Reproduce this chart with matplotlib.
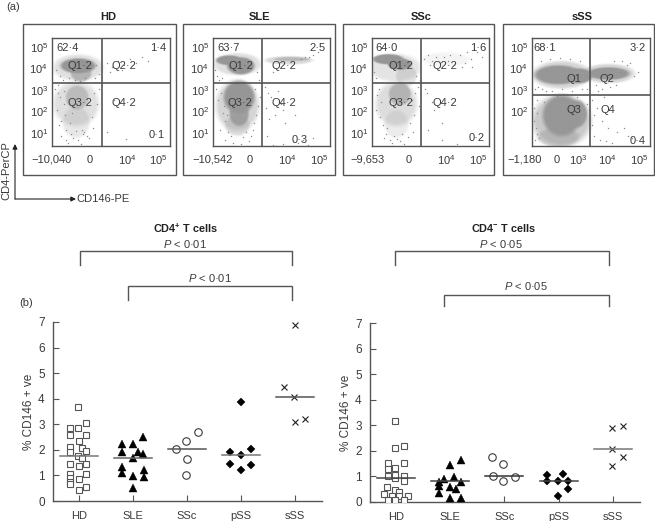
import matplotlib
matplotlib.use('Agg')
import matplotlib.pyplot as plt
from matplotlib.colors import LinearSegmentedColormap
from matplotlib.patches import Rectangle
import numpy as np

plt.rcParams['font.family'] = ['Liberation Sans', 'DejaVu Sans']
plt.rcParams['mathtext.fontset'] = 'custom'
plt.rcParams['mathtext.rm'] = 'Liberation Sans'
plt.rcParams['mathtext.it'] = 'Liberation Sans:italic'
plt.rcParams['mathtext.bf'] = 'Liberation Sans:bold'
plt.rcParams['mathtext.default'] = 'regular'

W, H = 655, 521
INK = '#3a3a3a'
LINE = '#555555'
DOT = '#8c8c8c'

# ---- panel (a): flow cytometry -------------------------------------------
panel_names = ['HD', 'SLE', 'SSc', 'sSS']
quad_labels = [
    ['62·4', '1·4', 'Q1·2', 'Q2·2', 'Q3·2', 'Q4·2', '0·1'],
    ['63·7', '2·5', 'Q1·2', 'Q2·2', 'Q3·2', 'Q4·2', '0·3'],
    ['64·0', '1·6', 'Q1·2', 'Q2·2', 'Q3·2', 'Q4·2', '0·2'],
    ['68·1', '3·2', 'Q1', 'Q2', 'Q3', 'Q4', '0·4'],
]
x_tick_labels = [
    ['−10,040', '0', '$10^4$', '$10^5$'],
    ['−10,542', '0', '$10^4$', '$10^5$'],
    ['−9,653', '0', '$10^4$', '$10^5$'],
    ['−1,180', '0', '$10^3$', '$10^4$', '$10^5$'],
]
x_tick_channels = [
    [0, 38, 75, 106],
    [0, 37, 74, 106],
    [-4, 37, 74, 106],
    [-7, 25, 46, 75, 107],
]
y_tick_decades = [[1, 2, 3, 4, 5], [1, 2, 3, 4, 5], [1, 2, 3, 4, 5], [2, 3, 4, 5]]
gate_x = [50, 49, 49, 58]
gate_y = [3.37, 3.37, 3.37, 2.81]

# dense populations: centre x, centre y (decades), radius x, radius y, density
clouds_hd = [
    (24, 2.4, 22, 1.0, .3), (24, 1.54, 13, .7, .22), (25, 2.7, 11, .54, .5),
    (26, 4.1, 24, .59, .3), (26, 4.18, 17, .34, 1.0), (29, 3.85, 10, .4, .6),
]
clouds_sle = [
    (24.3, 2.32, 20.7, 1.16, .4), (24.3, 1.39, 11.7, .47, .3),
    (26, 2.71, 15, .74, 1.0), (26, 1.93, 9.3, .54, .85),
    (24.3, 4.26, 23, .5, .3), (16, 4.44, 12.7, .22, 1.0), (27.7, 4.18, 13.3, .39, 1.0),
    (76, 4.44, 23, .19, .35), (79, 4.49, 17, .09, .5),
]
clouds_ssc = [
    (24.3, 2.4, 20, 1.0, .32), (24.3, 1.46, 11.7, .62, .18), (27.7, 2.86, 10.7, .5, .6),
    (34.3, 3.71, 10, .47, .28), (22.7, 4.1, 25, .62, .25),
    (16, 4.49, 15, .23, 1.0), (27.7, 4.26, 11.7, .26, 1.0), (74, 4.49, 23, .31, .1),
]
clouds_sss = [
    (29.3, 1.62, 28.3, 1.16, .5), (26, .84, 20, .43, .4),
    (29.3, 1.85, 18.3, .93, 1.0), (44.3, 1.93, 10, .62, .9),
    (29.3, 3.76, 28.3, .62, .4), (26, 3.76, 22.7, .43, 1.0), (46, 3.71, 13.3, .34, 1.0),
    (76, 3.82, 25, .43, .4), (76, 3.82, 20, .28, 1.0),
]
clouds = [clouds_hd, clouds_sle, clouds_ssc, clouds_sss]

# individually visible events: channel, decades
dots_hd_x = [3, 6, 8, 12, 5, 9, 14, 44, 47, 43, 55, 60, 66, 72, 78, 84, 90, 96, 58, 70, 4, 8, 11, 6, 42, 45, 40,
             9, 14, 19, 32, 37, 41, 13, 18, 30, 35, 17, 23, 28, 33, 16, 26, 31, 21, 29, 24, 7, 12, 20, 62, 55, 47, 74]
dots_hd_y = [3.1, 3.3, 2.7, 2.4, 2.1, 1.6, 1.2, 4.2, 3.8, 3.6, 4.3, 4.1, 4.4, 4.2, 4.5, 4.3, 4.6, 4.4, 3.9, 4.0,
             4.0, 3.7, 3.5, 2.9, 2.9, 2.4, 1.8, .9, .7, 1.0, 1.1, .8, 1.3, 1.9, 1.5, 1.2, .9, 3.6, 3.5, 3.45, 3.6,
             .6, .7, 1.0, .8, .55, 1.15, 1.4, 3.0, 2.0, 2.6, 1.1, 3.1, .75]
dots_sle_x = [2, 4, 6, 3, 8, 5, 10, 12, 7, 44, 46, 42, 47, 45, 43, 41, 40, 38, 52, 55, 58, 60, 65, 68, 88, 92, 96, 100,
              105, 53, 56, 62, 70, 54, 72, 82, 12, 18, 30, 36, 15, 33, 20, 28, 85, 90, 95, 100, 70, 80, 60, 9, 11, 14]
dots_sle_y = [4.0, 3.7, 3.5, 3.1, 2.9, 2.6, 2.0, 1.6, 1.2, 3.9, 3.5, 3.1, 2.7, 2.3, 1.9, 1.5, 1.2, .9, 3.2, 2.9, 2.7,
              3.9, 3.0, 2.4, 4.5, 4.6, 4.6, 4.7, 4.8, 2.2, 1.7, 1.9, 2.1, .9, 1.5, 1.9, .7, .9, .85, .65, 1.1, 1.1,
              .6, .55, .6, .7, .5, .8, .55, .65, .5, 3.6, 2.3, 1.9]
dots_ssc_x = [2, 4, 7, 5, 9, 4, 8, 11, 14, 44, 46, 43, 40, 47, 42, 38, 52, 56, 58, 60, 64, 68, 72, 76, 82, 88, 93, 99,
              105, 110, 53, 55, 60, 62, 70, 56, 12, 18, 22, 30, 36, 28, 20, 32, 70, 85, 15, 25, 41, 48, 100, 95, 90, 78]
dots_ssc_y = [3.9, 3.6, 3.1, 2.8, 2.5, 2.1, 1.8, 1.4, 1.0, 3.7, 3.2, 2.9, 2.6, 2.3, 1.9, 1.5, 4.5, 4.7, 4.2, 4.4, 4.6,
              4.3, 4.6, 4.4, 4.2, 4.7, 4.3, 4.5, 4.8, 4.6, 3.1, 2.9, 2.5, 2.1, 1.5, 1.2, .8, .7, .9, 1.0, .85, .65,
              .6, .55, .7, .55, 1.3, .75, 1.1, 3.5, 4.1, 4.8, 4.1, 4.7]
dots_sss_x = [3, 6, 10, 14, 20, 30, 40, 50, 55, 9, 18, 28, 38, 48, 2, 5, 2, 4, 5, 7, 3, 5, 55, 57, 60, 62, 65, 70, 76, 85,
              92, 96, 100, 62, 68, 74, 80, 66, 72, 60, 88, 95, 102, 106, 78, 84, 64, 70, 82, 90, 98, 12, 25, 45]
dots_sss_y = [3.1, 3.2, 3.1, 3.0, 3.0, 3.1, 3.0, 3.1, 3.1, 4.4, 4.5, 4.55, 4.5, 4.4, 2.2, 2.0, 1.6, 1.3, 1.0, .8, .7,
              2.6, 2.4, 2.1, 2.6, 1.9, 2.2, 1.6, 1.3, 1.1, 1.3, .9, .8, .9, .7, .65, .6, 3.0, 2.7, 1.4, 3.9, 4.2, 3.7,
              3.9, 3.2, 3.3, 3.3, 3.1, 4.4, 4.4, 4.3, 2.5, 2.75, 2.7]
dots = [(dots_hd_x, dots_hd_y), (dots_sle_x, dots_sle_y), (dots_ssc_x, dots_ssc_y), (dots_sss_x, dots_sss_y)]

# ---- panel (b): percentage of CD146+ cells --------------------------------
groups = ['HD', 'SLE', 'SSc', 'pSS', 'sSS']

cd4p_hd = [3.66, 3.06, 2.84, 2.84, 2.6, 2.6, 2.36, 2.1, 2.07, 1.93, 1.97, 1.76, 1.7, 1.46, 1.46, 1.37, 1.05, 1.07, .89, .86, .76, .66, .56, .43]
cd4p_hd_off = [-.02, .14, -.17, -.02, -.17, .14, 0, -.16, .06, -.16, .14, -.02, .06, -.17, .14, 0, -.17, .14, -.17, 0, -.17, -.17, .14, 0]
cd4p_sle = [2.49, 2.23, 2.23, 1.92, 1.92, 1.84, 1.67, 1.33, 1.11, .98, 1.21, .93, .5]
cd4p_sle_off = [.19, -.2, 0, -.2, .1, .19, 0, -.2, -.2, 0, .2, .2, 0]
cd4p_ssc = [2.7, 2.35, 2.03, 1.64, 1.02]
cd4p_ssc_off = [.2, -.01, -.2, 0, -.01]
cd4p_pss = [3.89, 1.92, 2.03, 1.8, 1.46, 1.41, 1.23]
cd4p_pss_off = [0, -.2, .19, 0, -.21, .19, 0]
cd4p_sss = [6.87, 4.45, 4.05, 3.2, 3.1]
cd4p_sss_off = [0, -.21, -.01, .19, 0]
cd4p_median = [1.75, 1.68, 2.02, 1.8, 4.05]

cd4n_hd = [3.17, 2.1, 2.2, 1.51, 1.53, 1.29, 1.33, 1.0, .94, 1.0, .82, .59, .48, .39, .3, .23, .23, .23, .09, .09, .09, 1.04]
cd4n_hd_off = [-.01, -.01, .15, .15, -.15, -.15, -.01, -.15, -.01, .15, .15, -.16, -.01, .05, -.22, -.07, .06, .22, -.15, -.01, .14, -.01]
cd4n_sle = [1.64, 1.46, .91, .78, .96, .78, .61, .59, .5, .37, .17, .17]
cd4n_sle_off = [.2, 0, -.11, -.21, .07, .2, -.21, 0, .1, -.21, 0, .2]
cd4n_ssc = [1.75, 1.5, 1.0, .99, .81]
cd4n_ssc_off = [-.23, -.02, -.22, .2, -.02]
cd4n_pss = [1.08, 1.04, .81, .81, .83, .5, .22]
cd4n_pss_off = [.08, -.22, -.22, -.02, .17, .17, -.02]
cd4n_sss = [2.99, 2.89, 2.07, 1.76, 1.39]
cd4n_sss_off = [.19, -.02, -.02, .18, -.02]
cd4n_median = [.95, .82, 1.0, .82, 2.07]

fig = plt.figure(figsize=(W / 100, H / 100), dpi=100, facecolor='white')
cloud_cmap = LinearSegmentedColormap.from_list('cloud', ['#ffffff', '#979797'])


def axes_px(x0, y0, x1, y1, **kw):
    return fig.add_axes([x0 / W, 1 - y1 / H, (x1 - x0) / W, (y1 - y0) / H], **kw)


def density_image(ax, blobs, width):
    """Soft-edged rendering of the hand-estimated populations."""
    xs = np.linspace(0, width, int(width) * 2)
    ys = np.linspace(.44, 5.47, 216)
    gx, gy = np.meshgrid(xs, ys)
    empty = np.ones_like(gx)
    for cx, cy, rx, ry, dens in blobs:
        r = np.hypot((gx - cx) / rx, (gy - cy) / ry)
        empty *= 1 - dens * np.clip((1.15 - r) / .25, 0, 1)
    ax.imshow(1 - empty, extent=(0, width, .44, 5.47), origin='lower', aspect='auto',
              cmap=cloud_cmap, vmin=0, vmax=1, interpolation='bilinear', zorder=2)


# ---- flow panels -----------------------------------------------------------
inner_boxes = [(52, 38, 170, 146), (213, 38, 330, 146), (372, 38, 489, 146), (532, 38, 650, 146)]
for i, box in enumerate(inner_boxes):
    ax = axes_px(*box)
    width = box[2] - box[0]
    density_image(ax, clouds[i], width)
    ax.plot(dots[i][0], dots[i][1], ls='none', marker='s', ms=.9, mfc=DOT, mec='none', zorder=3)
    ax.axvline(gate_x[i], color=LINE, lw=1.2, zorder=4)
    ax.axhline(gate_y[i], color=LINE, lw=1.2, zorder=4)
    ax.set_xticks([t for t in x_tick_channels[i] if t >= 0])
    ax.set_xticks(np.arange(2, width, 5.0), minor=True)
    ax.set_yticks(y_tick_decades[i])
    ax.set_yticks(np.concatenate([d + np.log10(np.arange(2, 10)) for d in range(0, 5)]), minor=True)
    ax.set_ylim(.44, 5.47)
    ax.set_xlim(0, width)
    ax.set_xticklabels([])
    ax.set_yticklabels([])
    ax.tick_params(which='major', direction='in', length=3, width=.7, color=INK)
    ax.tick_params(which='minor', direction='in', length=1.5, width=.5, color=INK)
    for s in ax.spines.values():
        s.set_color(LINE)
        s.set_linewidth(1.0)

# ---- scatter panels ---------------------------------------------------------
def scatter_panel(box, series, offsets, medians, median_colors):
    ax = axes_px(*box)
    styles = [
        dict(marker='s', ms=4.8, mfc='white', mec=LINE, mew=.8),
        dict(marker='^', ms=5.4, mfc='black', mec='black', mew=.3),
        dict(marker='o', ms=5.4, mfc='white', mec=INK, mew=.8),
        dict(marker='D', ms=3.9, mfc='black', mec='black', mew=.3),
        dict(marker='x', ms=5.0, mfc='none', mec='#222222', mew=.8),
    ]
    for k, (vals, off, st) in enumerate(zip(series, offsets, styles)):
        ax.plot(np.add(k, off), vals, ls='none', zorder=3, **st)
        ax.plot([k - .35, k + .35], [medians[k], medians[k]], color=median_colors[k], lw=1.1, zorder=4)
    ax.set_xlim(-.48, 4.5)
    ax.set_ylim(0, 7)
    ax.set_xticks(range(5))
    ax.set_xticklabels(groups, fontsize=8, color=INK)
    ax.set_yticks(range(8))
    ax.tick_params(axis='y', direction='in', length=4, width=.8, color=LINE, labelsize=8.5, labelcolor=INK, pad=6)
    ax.tick_params(axis='x', direction='in', length=4, width=.8, color=LINE, pad=7)
    ax.set_ylabel('% CD146 + ve', fontsize=8.5, color=INK, labelpad=2)
    ax.spines['top'].set_visible(False)
    ax.spines['right'].set_visible(False)
    for s in ('left', 'bottom'):
        ax.spines[s].set_color(LINE)
        ax.spines[s].set_linewidth(1.0)
    ax.patch.set_alpha(0)


scatter_panel((53, 322, 322, 501),
              [cd4p_hd, cd4p_sle, cd4p_ssc, cd4p_pss, cd4p_sss],
              [cd4p_hd_off, cd4p_sle_off, cd4p_ssc_off, cd4p_pss_off, cd4p_sss_off],
              cd4p_median, ['#777777', '#666666', '#555555', '#777777', '#555555'])
scatter_panel((370, 323, 640, 502),
              [cd4n_hd, cd4n_sle, cd4n_ssc, cd4n_pss, cd4n_sss],
              [cd4n_hd_off, cd4n_sle_off, cd4n_ssc_off, cd4n_pss_off, cd4n_sss_off],
              cd4n_median, ['#444444', '#444444', '#333333', '#444444', '#777777'])

# ---- overlay in pixel coordinates: frames, labels, brackets -----------------
ov = fig.add_axes([0, 0, 1, 1], facecolor='none')
ov.set_xlim(0, W)
ov.set_ylim(H, 0)
ov.axis('off')

outer = [(23, 24, 176, 175), (183, 24, 335, 175), (343, 24, 494, 175), (503, 24, 654, 175)]
title_x = [108, 259, 421, 582]
for (x0, y0, x1, y1), nm, tx in zip(outer, panel_names, title_x):
    ov.add_patch(Rectangle((x0, y0), x1 - x0, y1 - y0, fc='none', ec=LINE, lw=1.0))
    ov.text(tx, 17, nm, ha='center', va='center', fontsize=8, fontweight='bold', color='#222222')

label_pos = [
    [(68, 48), (158, 48), (80, 66), (124, 66), (80, 103), (124, 103), (157, 135)],
    [(229, 48), (317, 48), (241, 66), (284, 66), (240, 103), (284, 103), (300, 140)],
    [(387, 48), (478, 48), (401, 66), (445, 66), (401, 103), (445, 103), (477, 138)],
    [(545, 48), (638, 48), (574, 79), (607, 79), (574, 110), (608, 110), (638, 141)],
]
for labs, poss in zip(quad_labels, label_pos):
    for t, (x, y) in zip(labs, poss):
        ov.text(x, y, t, ha='center', va='center', fontsize=8, color=INK, zorder=6)

for i, box in enumerate(inner_boxes):
    px_per_dec = (box[3] - box[1]) / (5.47 - .44)
    for d in y_tick_decades[i]:
        ov.text(box[0] - 4, box[1] + (5.47 - d) * px_per_dec, f'$10^{d}$', ha='right', va='center',
                fontsize=8, color=INK)
    for lab, t in zip(x_tick_labels[i], x_tick_channels[i]):
        ov.text(box[0] + t, 160, lab, ha='center', va='center', fontsize=8, color=INK)

ov.text(13, 7, '(a)', ha='center', va='center', fontsize=8, color=INK)
ov.text(26, 303, '(b)', ha='center', va='center', fontsize=8, color=INK)

ov.annotate('', xy=(15, 144), xytext=(15, 199),
            arrowprops=dict(arrowstyle='-|>', color='#222222', lw=.8, mutation_scale=7, shrinkA=0, shrinkB=0))
ov.annotate('', xy=(76, 199), xytext=(15, 199),
            arrowprops=dict(arrowstyle='-|>', color='#222222', lw=.8, mutation_scale=7, shrinkA=0, shrinkB=0))
ov.text(6, 171, 'CD4-PerCP', rotation=90, ha='center', va='center', fontsize=8, color=INK)
ov.text(76, 199, 'CD146-PE', ha='left', va='center', fontsize=8, color=INK)

ov.text(186, 228, r'CD4$^{\mathbf{+}}$ T cells', ha='center', va='center', fontsize=7.8, fontweight='bold', color='#222222')
ov.text(504, 228, r'CD4$^{\mathbf{-}}$ T cells', ha='center', va='center', fontsize=7.8, fontweight='bold', color='#222222')

brackets = [
    (79.5, 292, 251, 265, 185, 244, 'P < 0·01'),
    (128, 292, 286, 300, 210, 278, 'P < 0·01'),
    (395, 609, 251, 265, 501, 244, 'P < 0·05'),
    (444, 609, 295, 306, 526, 286, 'P < 0·05'),
]
for x0, x1, top, bot, tx, ty, lab in brackets:
    ov.plot([x0, x0, x1, x1], [bot, top, top, bot], color=LINE, lw=1.0, solid_joinstyle='miter')
    ov.text(tx, ty, r'$\mathit{P}$' + lab[1:], ha='center', va='center', fontsize=8, color=INK)

fig.savefig('out.png', dpi=100)
